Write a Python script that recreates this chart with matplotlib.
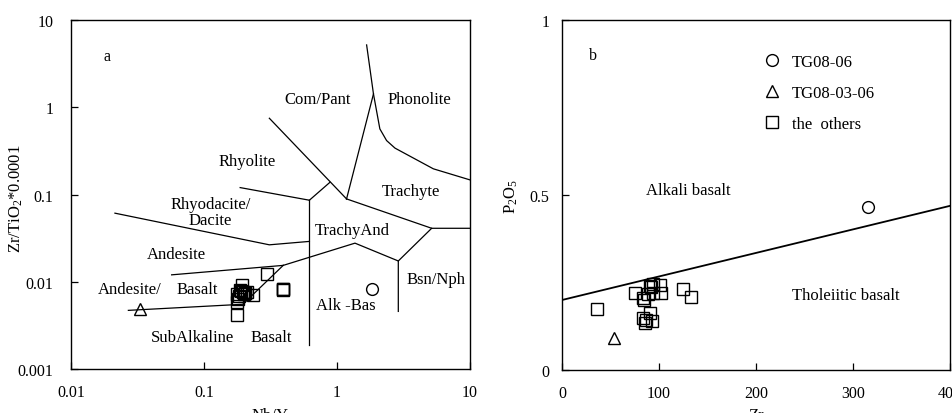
import matplotlib.pyplot as plt
import numpy as np

plt.rcParams['font.family'] = 'Liberation Serif'
plt.rcParams['mathtext.fontset'] = 'custom'
plt.rcParams['mathtext.rm'] = 'Liberation Serif'
plt.rcParams['mathtext.it'] = 'Liberation Serif'
plt.rcParams['font.size'] = 11.5

# --- panel a: Zr/TiO2 vs Nb/Y (Winchester & Floyd)
tg0806_a = ([1.845], [0.0083])
tg080306_a = ([0.033], [0.00482])
others_nby = [0.296, 0.39, 0.39, 0.392, 0.194, 0.176, 0.198, 0.203, 0.205,
              0.232, 0.178, 0.176, 0.182, 0.21, 0.19, 0.18, 0.2, 0.185]
others_zrti = [0.0122, 0.0082, 0.0081, 0.0083, 0.0091, 0.0073, 0.0076, 0.0074, 0.0075,
               0.0071, 0.0059, 0.0042, 0.0068, 0.0077, 0.0078, 0.0064, 0.0073, 0.0080]

# field boundaries (Nb/Y, Zr/TiO2)
bounds_a = [
    [(0.0214, 0.0611), (0.31, 0.0265), (0.62, 0.029)],
    [(0.187, 0.120), (0.62, 0.086)],
    [(0.62, 0.086), (0.885, 0.138)],
    [(0.31, 0.748), (1.18, 0.089)],
    [(0.62, 0.086), (0.62, 0.00187)],
    [(1.18, 0.089), (1.88, 1.42)],
    [(1.67, 5.18), (1.88, 1.42), (2.10, 0.565), (2.36, 0.415), (2.73, 0.34),
     (5.3, 0.197), (10.0, 0.147)],
    [(1.18, 0.089), (5.15, 0.041), (10.0, 0.041)],
    [(5.15, 0.041), (2.89, 0.0173), (2.89, 0.00457)],
    [(0.394, 0.0154), (1.365, 0.0277), (2.89, 0.0173)],
    [(0.0571, 0.0120), (0.394, 0.0154)],
    [(0.027, 0.0047), (0.196, 0.00552), (0.394, 0.0154)],
]

labels_a = [
    ("Com/Pant", 0.711, 1.24), ("Phonolite", 4.16, 1.24), ("Rhyolite", 0.212, 0.245),
    ("Trachyte", 3.58, 0.109), ("Rhyodacite/\nDacite", 0.112, 0.0638),
    ("TrachyAnd", 1.30, 0.0387), ("Andesite", 0.0622, 0.0209),
    ("Andesite/", 0.0275, 0.00817), ("Basalt", 0.089, 0.00817),
    ("Bsn/Nph", 5.6, 0.0108), ("Alk -Bas", 1.156, 0.00546),
    ("SubAlkaline", 0.0817, 0.00232), ("Basalt", 0.323, 0.00232),
]

# --- panel b: P2O5 vs Zr
tg0806_b = ([315], [0.466])
tg080306_b = ([53.6], [0.092])
others_zr = [36.5, 75, 83.6, 85, 89, 90.4, 93.9, 100.7, 102.4, 93.9, 124.6, 133,
             90.4, 83.6, 93.2, 85.3, 87, 92]
others_p2o5 = [0.173, 0.221, 0.207, 0.200, 0.216, 0.240, 0.245, 0.242, 0.221, 0.221,
               0.232, 0.209, 0.162, 0.150, 0.140, 0.135, 0.143, 0.238]
divide_zr = [0, 400]
divide_p = [0.200, 0.469]

fig = plt.figure(figsize=(9.52, 4.14), dpi=100)
ax1 = fig.add_axes([71/952, 44/414, 399/952, 349/414])
ax2 = fig.add_axes([562/952, 43/414, 388/952, 350/414])

mk = dict(ls='none', mfc='none', mec='black', mew=1.0)
lab = 12

for seg in bounds_a:
    xs, ys = zip(*seg)
    ax1.plot(xs, ys, color='black', lw=0.9)
ax1.plot(*tg0806_a, marker='o', ms=8.5, **mk)
ax1.plot(*tg080306_a, marker='^', ms=9, **mk)
ax1.plot(others_nby, others_zrti, marker='s', ms=8, **mk)
for txt, x, y in labels_a:
    ax1.text(x, y, txt, ha='center', va='center', linespacing=1.0, fontsize=lab)
ax1.text(0.0185, 3.9, "a", ha='center', va='center')

ax1.set_xscale('log')
ax1.set_yscale('log')
ax1.set_xlim(0.01, 10)
ax1.set_ylim(0.001, 10)
ax1.set_xticks([0.01, 0.1, 1, 10])
ax1.set_xticklabels(['0.01', '0.1', '1', '10'])
ax1.set_yticks([0.001, 0.01, 0.1, 1, 10])
ax1.set_yticklabels(['0.001', '0.01', '0.1', '1', '10'])
ax1.minorticks_off()
ax1.set_xlabel("Nb/Y", fontsize=lab)
ax1.set_ylabel("Zr/TiO$_2$*0.0001", fontsize=lab)
ax1.xaxis.set_label_coords(0.5, -0.109)
ax1.yaxis.set_label_coords(-0.115, 0.49)

ax2.plot(divide_zr, divide_p, color='black', lw=1.3)
h1, = ax2.plot(*tg0806_b, marker='o', ms=8.5, **mk)
h2, = ax2.plot(*tg080306_b, marker='^', ms=9, **mk)
h3, = ax2.plot(others_zr, others_p2o5, marker='s', ms=8, **mk)
ax2.text(32.4, 0.899, "b", ha='center', va='center')
ax2.text(130.7, 0.514, "Alkali basalt", ha='center', va='center', fontsize=lab)
ax2.text(292.8, 0.213, "Tholeiitic basalt", ha='center', va='center', fontsize=lab)
ax2.set_xlim(0, 400)
ax2.set_ylim(0, 1)
ax2.set_xticks([0, 100, 200, 300, 400])
ax2.set_yticks([0, 0.5, 1])
ax2.set_yticklabels(['0', '0.5', '1'])
ax2.set_xlabel("Zr", fontsize=lab)
ax2.set_ylabel("P$_2$O$_5$", fontsize=lab)
ax2.xaxis.set_label_coords(0.5, -0.106)
ax2.yaxis.set_label_coords(-0.108, 0.5)
ax2.legend([h1, h2, h3], ["TG08-06", "TG08-03-06", "the  others"],
           loc='upper left', bbox_to_anchor=(0.52, 0.902), frameon=False,
           borderpad=0, borderaxespad=0, handlelength=1.0, handletextpad=0.7,
           labelspacing=0.9, fontsize=lab)

for ax in (ax1, ax2):
    ax.tick_params(direction='in', length=5, width=0.9, top=False, right=False)
    ax.tick_params(axis='x', pad=10.5)
for s in ax1.spines.values():
    s.set_linewidth(1.0)
for s in ax2.spines.values():
    s.set_linewidth(1.0)
ax1.tick_params(axis='y', pad=12.5)
ax2.tick_params(axis='y', pad=9)

fig.savefig("out.png", dpi=100)
